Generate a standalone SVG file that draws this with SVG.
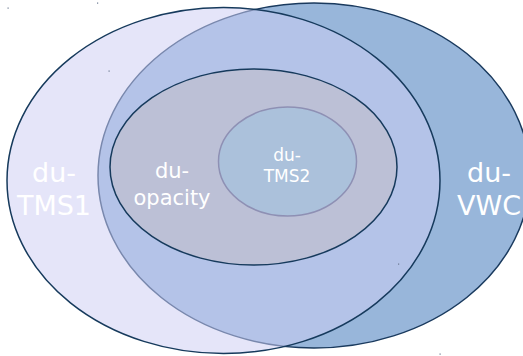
<svg xmlns="http://www.w3.org/2000/svg" width="523" height="356" viewBox="0 0 523 356">
<style>
.lbl{font-family:"DejaVu Sans","Liberation Sans",sans-serif;fill:#ffffff;text-anchor:middle}
.dot{fill:#6a7890}
</style>
<rect width="523" height="356" fill="#ffffff"/>
<g id="vwc">
<ellipse cx="314" cy="175.5" rx="216" ry="172.5" fill="#98b6da" stroke="#1a3a5e" stroke-width="1.5"/>
</g>
<g id="tms1">
<ellipse cx="223.5" cy="180.5" rx="216.5" ry="173" fill="#cdcdf3" fill-opacity="0.53" stroke="#163a5c" stroke-width="1.5"/>
</g>
<g id="opacity">
<ellipse cx="253.5" cy="167" rx="143.5" ry="98" fill="#bcc0d6" stroke="#163a5c" stroke-width="1.5"/>
</g>
<g id="tms2">
<ellipse cx="287.5" cy="161.5" rx="69" ry="54.5" fill="#abc1db" stroke="#8e90b4" stroke-width="1.5"/>
</g>
<g id="labels">
<text class="lbl" x="54" y="182" font-size="27">du-</text>
<text class="lbl" x="54" y="215" font-size="27">TMS1</text>
<text class="lbl" x="172" y="178" font-size="21">du-</text>
<text class="lbl" x="172" y="205" font-size="21">opacity</text>
<text class="lbl" x="287" y="161" font-size="17">du-</text>
<text class="lbl" x="287" y="182" font-size="17">TMS2</text>
<text class="lbl" x="489" y="182" font-size="27">du-</text>
<text class="lbl" x="489" y="215" font-size="27">VWC</text>
</g>
<g id="connectors"></g>
<g id="specks">
<rect class="dot" x="7.5" y="7.5" width="1.2" height="1.2"/>
<rect class="dot" x="97" y="2.5" width="1.2" height="1.2"/>
<rect class="dot" x="108.5" y="70.5" width="1.2" height="1.2"/>
<rect class="dot" x="398" y="263.5" width="1.2" height="1.2"/>
<rect class="dot" x="439.5" y="353.5" width="1.2" height="1.2"/>
</g>
</svg>
